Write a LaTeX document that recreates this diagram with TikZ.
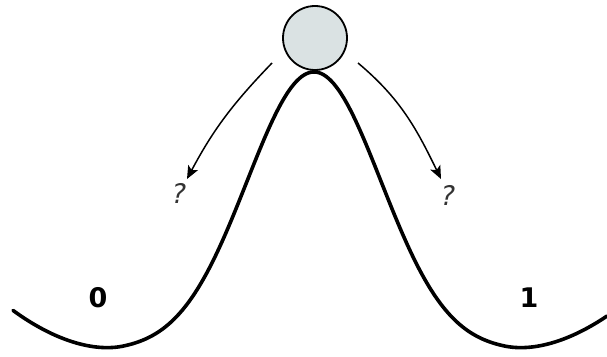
\documentclass[tikz,border=0pt]{standalone}
\usepackage{fontspec}
\setmainfont{DejaVu Sans}
\usetikzlibrary{arrows.meta}
\definecolor{ballfill}{RGB}{218,226,227}
\tikzset{
  landscape/.style={line width=3.6pt, line cap=round, line join=round},
  ball/.style={circle, draw, line width=1.8pt, fill=ballfill, minimum size=64pt, inner sep=0pt},
  fallarrow/.style={line width=1.5pt, -{Stealth[length=13pt,width=11pt,inset=3pt]}},
  qmark/.style={font=\fontsize{27}{27}\selectfont\itshape, text=black!80},
  statelabel/.style={font=\fontsize{27}{27}\selectfont\bfseries}
}
\begin{document}
\begin{tikzpicture}[x=1pt,y=1pt]
\useasboundingbox (0,0) rectangle (607,356);
\draw[landscape] plot[domain=13:607, samples=240, smooth]
  (\x, {5 + 279*exp(-((\x-314)/95)^2) + 0.0033*(max(abs(\x-314)-190,0))^2});
\node[ball] (ball) at (315,318) {};
\coordinate (ls) at (272,293);
\coordinate (rs) at (358,293);
\coordinate (lt) at (187,177);
\coordinate (rt) at (441,177);
\node[qmark] (ql) at (179,163) {?};
\node[qmark] (qr) at (448,161) {?};
\draw[fallarrow] (ls) to[out=226,in=62] (lt);
\draw[fallarrow] (rs) to[out=-40,in=116] (rt);
\node[statelabel] (zero) at (98,58) {0};
\node[statelabel] (one) at (529,58) {1};
\end{tikzpicture}
\end{document}
